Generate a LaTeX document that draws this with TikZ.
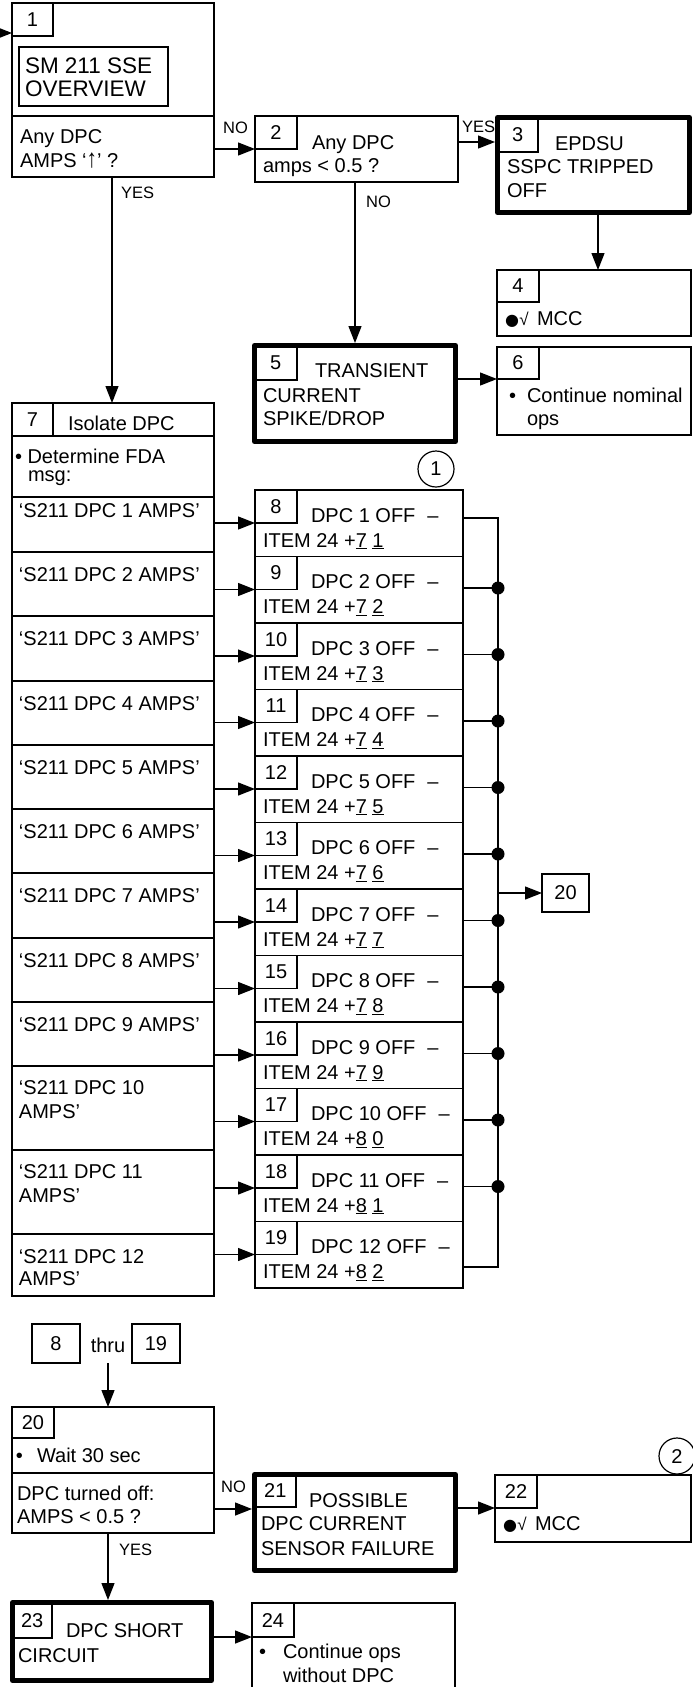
\documentclass[tikz,border=0pt]{standalone}
\usepackage{fontspec}
\setmainfont{Liberation Sans}
\newfontfamily\symf{DejaVu Sans}
\usetikzlibrary{arrows.meta,fit}
\newcommand\nbox[4]{\node[box,fit={#2 #3}] (#1) {};\node[num] (#1t) at (#1.center) {#4};}
\newcommand\chk{\makebox[32pt][l]{{\symf\fontsize{16}{16}\selectfont ●}\kern0.5pt{\fontsize{17}{17}\selectfont √}}}
\begin{document}
\begin{tikzpicture}[x=1pt,y=-1pt,
  box/.style={draw,line width=1.3pt,inner sep=0pt,outer sep=0pt},
  num/.style={inner sep=0pt,font=\fontsize{20}{24}\selectfont},
  tbox/.style={draw,line width=5pt,inner sep=0pt,outer sep=2.5pt,line join=round},
  txt/.style={anchor=base west,inner sep=0pt,outer sep=0pt,font=\fontsize{20}{24}\selectfont},
  lbl/.style={anchor=base west,inner sep=0pt,font=\fontsize{16.5}{20}\selectfont},
  ln/.style={line width=1.3pt},
  arr/.style={line width=1.3pt,-{Triangle[length=17pt,width=13pt]}},
  circ/.style={draw,circle,line width=1.2pt,minimum size=36pt,inner sep=0pt,font=\fontsize{20}{24}\selectfont}]
\useasboundingbox (0,0) rectangle (693,1687);
\fill[white] (0,0) rectangle (693,1687);
\clip (0,0) rectangle (693,1687);

% ---- box 1
\node[box,fit={(12,3)(214,177)}] (b1) {};
\nbox{n1}{(12,3)}{(53,36)}{1}
\node[box,fit={(19,47)(168,106)}] (ov) {};
\node[txt,font=\fontsize{22.5}{26}\selectfont] (ov1) at (25,73) {SM 211 SSE};
\node[txt,font=\fontsize{22.5}{26}\selectfont] (ov2) at (25,96) {OVERVIEW};
\coordinate (d1) at (0,116);
\draw[ln] (b1.west |- d1) -- (b1.east |- d1);
\node[txt] (q1a) at (20,143) {Any DPC};
\node[txt] (q1b) at (20,167) {AMPS ‘\scalebox{1.05}[1.3]{↑}’ ?};
\coordinate (e0) at (-20,33);
\draw[arr] (e0) -- (b1.west |- e0);

% ---- box 2
\node[box,fit={(255,116)(458,182)}] (b2) {};
\nbox{n2}{(255,116)}{(297,149)}{2}
\node[txt] (q2a) at (312,149) {Any DPC};
\node[txt] (q2b) at (263,172) {amps < 0.5 ?};
\draw[arr] (b1.east |- n2.south) -- (n2.south west);
\node[lbl] (no1) at (223,133) {NO};

% ---- box 3
\node[tbox,fit={(497.5,117.5)(689.5,212.5)}] (b3) {};
\nbox{n3}{(497.5,117.5)}{(538,152)}{3}
\node[txt] (t3a) at (555,150) {EPDSU};
\node[txt] (t3b) at (507,173) {SSPC TRIPPED};
\node[txt] (t3c) at (507,197) {OFF};
\coordinate (y142) at (0,142);
\draw[arr] (b2.east |- y142) -- (b3.west |- y142);
\node[lbl] (yes2) at (462,132) {YES};

% ---- box 4
\node[box,fit={(497,270)(691,336)}] (b4) {};
\nbox{n4}{(497,270)}{(539,302)}{4}
\node[txt] (m4) at (505,325) {\chk MCC};
\coordinate (x598) at (598,0);
\draw[arr] (b3.south -| x598) -- (b4.north -| x598);

% ---- box 6
\node[box,fit={(497,347)(691,435)}] (b6) {};
\nbox{n6}{(497,347)}{(539,379)}{6}
\node[txt] (c6a) at (509,402) {•};
\node[txt] (c6b) at (527,402) {Continue nominal};
\node[txt] (c6c) at (527,425) {ops};

% ---- box 5
\node[tbox,fit={(254.5,345.5)(455.5,441.5)}] (b5) {};
\nbox{n5}{(254.5,345.5)}{(297,380)}{5}
\node[txt] (t5a) at (315,377) {TRANSIENT};
\node[txt] (t5b) at (263,402) {CURRENT};
\node[txt] (t5c) at (263,425) {SPIKE/DROP};
\coordinate (x355) at (355,0);
\draw[arr] (b2.south -| x355) -- (b5.north -| x355);
\node[lbl] (no2) at (366,207) {NO};
\draw[arr] (b5.east |- n6.south) -- (n6.south west);

% ---- box 7
\node[box,fit={(12,403)(214,1296)}] (b7) {};
\nbox{n7}{(12,403)}{(53,436)}{7}
\node[txt] (h7) at (68,430) {Isolate DPC};
\node[box,fit={(12,436)(214,497)}] (fda) {};
\node[txt] (fda1) at (15,463) {• Determine FDA};
\node[txt] (fda2) at (28,481) {msg:};
\coordinate (x112) at (112,0);
\draw[arr] (b1.south -| x112) -- (b7.north -| x112);
\node[lbl] (yes1) at (121,198) {YES};

\foreach \i/\tp/\bo/\ya in {1/497/552/517,2/552/616/581,3/616/681/645,4/681/745/710,5/745/809/774,6/809/873/838,7/873/938/902,8/938/1002/967,9/1002/1066/1031}{
  \node[box,fit={(12,\tp)(214,\bo)}] (r\i) {};
  \node[txt] (rt\i) at (19,\ya) {‘S211 DPC \i\ AMPS’};
}
\foreach \i/\tp/\bo/\ya/\yc in {10/1066/1150/1094/1118,11/1150/1234/1178/1202,12/1234/1296/1263/1285}{
  \node[box,fit={(12,\tp)(214,\bo)}] (r\i) {};
  \node[txt] (rt\i) at (19,\ya) {‘S211 DPC \i};
  \node[txt] (ru\i) at (19,\yc) {AMPS’};
}

% ---- boxes 8..19
\foreach \k/\nn/\ua/\ub [count=\j from 0] in {8/1/7/1,9/2/7/2,10/3/7/3,11/4/7/4,12/5/7/5,13/6/7/6,14/7/7/7,15/8/7/8,16/9/7/9,17/10/8/0,18/11/8/1,19/12/8/2}{
  \pgfmathsetmacro\tp{490+66.5*\j}
  \pgfmathsetmacro\bo{\tp+66.5}
  \pgfmathtruncatemacro\ri{\k-7}
  \node[box,fit={(255,\tp)(463,\bo)}] (s\k) {};
  \nbox{sn\k}{(255,\tp)}{(297,\tp+33)}{\k}
  \node[txt] (sa\k) at (311,\tp+32) {DPC \nn\ OFF\hspace{12pt}–};
  \node[txt] (sb\k) at (263,\tp+57) {ITEM 24 +\underline{\ua} \underline{\ub}};
  \coordinate (c\k) at (463,\tp+31.5);
  \draw[arr] (r\ri.east |- sn\k.south) -- (sn\k.south west);
}
\coordinate (c8) at (463,518);
\coordinate (c19) at (463,1267);
\coordinate (bus) at (498,0);
\draw[ln] (c8) -| (bus |- c19) -- (c19);
\foreach \k in {9,...,18}{
  \draw[ln] (c\k) -- (bus |- c\k);
  \fill (bus |- c\k) circle (6.5pt);
}
\nbox{k20}{(542,874)}{(589,912)}{20}
\draw[arr] (bus |- k20) -- (k20.west);
\node[circ] (ci1) at (436,469) {1};

% ---- bottom
\nbox{k8}{(32,1324)}{(80,1363)}{8}
\node[txt,anchor=base] (thru) at (108,1352) {thru};
\nbox{k19}{(132,1324)}{(180,1363)}{19}

\node[box,fit={(12,1407)(214,1533)}] (b20) {};
\nbox{n20}{(12,1407)}{(54,1438)}{20}
\coordinate (d20) at (0,1473);
\draw[ln] (b20.west |- d20) -- (b20.east |- d20);
\node[txt] (w20a) at (16,1462) {•};
\node[txt] (w20b) at (37,1462) {Wait 30 sec};
\node[txt] (q20a) at (17,1500) {DPC turned off:};
\node[txt] (q20b) at (17,1523) {AMPS < 0.5 ?};
\draw[arr] (thru.south |- k8.south) -- (b20.north -| thru.south);

\node[tbox,fit={(254.5,1474.5)(455.5,1570.5)}] (b21) {};
\nbox{n21}{(254.5,1474.5)}{(296,1507)}{21}
\node[txt] (t21a) at (309,1507) {POSSIBLE};
\node[txt] (t21b) at (261,1530) {DPC CURRENT};
\node[txt] (t21c) at (261,1555) {SENSOR FAILURE};
\coordinate (y1509) at (0,1509);
\draw[arr] (b20.east |- y1509) -- (b21.west |- y1509);
\node[lbl] (no3) at (221,1492) {NO};

\node[box,fit={(495,1475)(691,1542)}] (b22) {};
\nbox{n22}{(495,1475)}{(537,1508)}{22}
\node[txt] (m22) at (503,1530) {\chk MCC};
\draw[arr] (b21.east |- n22.south) -- (n22.south west);
\node[circ] (ci2) at (677,1456) {2};

\node[tbox,fit={(12.5,1602.5)(211.5,1680.5)}] (b23) {};
\nbox{n23}{(12.5,1602.5)}{(52,1638)}{23}
\node[txt] (t23a) at (66,1637) {DPC SHORT};
\node[txt] (t23b) at (18,1662) {CIRCUIT};
\draw[arr] (b20.south -| thru) -- (b23.north -| thru);
\node[lbl] (yes3) at (119,1555) {YES};

\node[box,fit={(252,1603)(455,1690)}] (b24) {};
\nbox{n24}{(252,1603)}{(294,1637)}{24}
\node[txt] (c24a) at (259,1658) {•};
\node[txt] (c24b) at (283,1658) {Continue ops};
\node[txt] (c24c) at (283,1682) {without DPC};
\draw[arr] (b23.east |- n24.south) -- (n24.south west);
\end{tikzpicture}
\end{document}
